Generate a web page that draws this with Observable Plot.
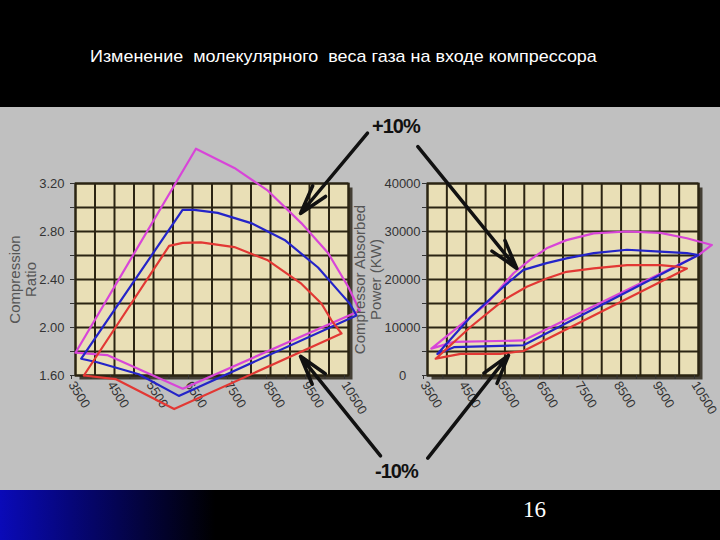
<!DOCTYPE html>
<html><head><meta charset="utf-8">
<script src="https://cdn.jsdelivr.net/npm/d3@7"></script>
<script src="https://cdn.jsdelivr.net/npm/@observablehq/plot@0.6"></script>
<style>
body{margin:0;background:#000;width:720px;height:540px;overflow:hidden;position:relative;font-family:"Liberation Sans",Arial,sans-serif}
#title{position:absolute;left:90px;top:47px;color:#fff;font-size:17px;white-space:pre;transform:scaleX(1.055);transform-origin:left top}
#panel{position:absolute;left:0;top:107px;width:720px;height:383px;background:#c0c0c0}
#footer{position:absolute;left:0;top:490px;width:720px;height:50px;background:linear-gradient(90deg,#0a0ab8 0,#06067a 70px,#000 215px)}
#page{position:absolute;left:523px;top:497px;color:#fff;font-family:"Liberation Serif","Times New Roman",serif;font-size:23px}
.chart{position:absolute;left:0;top:107px}
.note{position:absolute;font-weight:bold;font-size:20px;letter-spacing:-1px;color:#111}
</style></head>
<body>
<div id="title">Изменение  молекулярного  веса газа на входе компрессора</div>
<div id="panel"></div>
<div id="footer"></div>
<div id="page">16</div>
<div id="left" class="chart"></div>
<div id="right" class="chart"></div>
<div class="note" style="left:372px;top:115px">+10%</div>
<div class="note" style="left:375px;top:460px">-10%</div>
<script>
// ---- data ----
const seriesNames = ["+10%", "base", "-10%"];
const seriesColors = ["#d845d8", "#2424c8", "#e23834"];
const xTickLabels = [3500, 4500, 5500, 6500, 7500, 8500, 9500, 10500];
const ratioTickLabels = ["1.60", "2.00", "2.40", "2.80", "3.20"];
const powerTickLabels = [0, 10000, 20000, 30000, 40000];

// Compression ratio vs speed (closed envelopes)
const ratioPlusX = [3500, 6588, 7573, 8433, 9290, 9977, 10492, 10790, 6250, 4313, 3500];
const ratioPlusY = [1.79, 3.49, 3.33, 3.14, 2.87, 2.62, 2.34, 2.14, 1.49, 1.77, 1.79];
const ratioBaseX = [3647, 6245, 6544, 7146, 8003, 8861, 9719, 10311, 10532, 10705, 6149, 5123, 4056, 3647];
const ratioBaseY = [1.74, 2.98, 2.98, 2.955, 2.87, 2.73, 2.50, 2.28, 2.20, 2.10, 1.43, 1.61, 1.71, 1.74];
const ratioMinusX = [3714, 5901, 6250, 6716, 7573, 8433, 9290, 9805, 10063, 10320, 6030, 4526, 3714];
const ratioMinusY = [1.60, 2.68, 2.705, 2.71, 2.67, 2.56, 2.365, 2.20, 2.06, 1.95, 1.32, 1.57, 1.60];

// Absorbed power vs speed (closed envelopes)
const powerPlusX = [3600, 4182, 5038, 5721, 6149, 6577, 7090, 7794, 8654, 9513, 10200, 10845, 10500, 5977, 4182, 3600];
const powerPlusY = [5600, 9400, 15000, 21300, 24100, 26500, 28200, 29600, 30000, 29700, 28600, 27200, 25100, 7300, 7000, 5600];
const powerBaseX = [3756, 4610, 5464, 5977, 6577, 7090, 7794, 8654, 9513, 10200, 10500, 5977, 4182, 3756];
const powerBaseY = [4500, 12200, 18500, 22000, 23400, 24400, 25500, 26200, 25800, 25500, 25100, 6300, 5900, 4500];
const powerMinusX = [3713, 4610, 5464, 6064, 6577, 7090, 7794, 8654, 9513, 9943, 10200, 5977, 5380, 4354, 3713];
const powerMinusY = [3500, 10100, 15700, 18500, 20200, 21600, 22300, 23000, 23000, 22700, 22300, 5100, 4500, 4500, 3500];

// annotation arrows (data coordinates of each chart)
const ratioArrows = [
  {x1: 10987, y1: 3.62, x2: 9269, y2: 2.95},
  {x1: 11321, y1: 0.93, x2: 9269, y2: 1.76}
];
const powerArrows = [
  {x1: 3251, y1: 47700, x2: 5808, y2: 22300},
  {x1: 3508, y1: -17200, x2: 5592, y2: 4200}
];

// ---- build ----
const rows = (xs, ys, s) => xs.map((x, i) => ({x, y: ys[i], series: s}));
const ratioRows = [
  ...rows(ratioPlusX, ratioPlusY, "+10%"),
  ...rows(ratioBaseX, ratioBaseY, "base"),
  ...rows(ratioMinusX, ratioMinusY, "-10%")
];
const powerRows = [
  ...rows(powerPlusX, powerPlusY, "+10%"),
  ...rows(powerBaseX, powerBaseY, "base"),
  ...rows(powerMinusX, powerMinusY, "-10%")
];

const gridXVals = d3.range(3500, 10501, 500);
const gridRatio = d3.range(8, 17).map(d => d / 5);
const gridPower = d3.range(0, 40001, 5000);
const gridColor = "#2b2412";
const style = {fontSize: "13px", fontFamily: "'Liberation Sans', Arial, sans-serif", color: "#333", background: "transparent", overflow: "visible"};

function chart({marginLeft, marginRight, yDomain, gridY, yFormat, data, arrows, title, titleDx, yTextAnchor, yPad}) {
  return Plot.plot({
    width: 720, height: 383,
    marginLeft, marginRight, marginTop: 76, marginBottom: 115,
    style,
    x: {domain: [3500, 10500], axis: null},
    y: {domain: yDomain, axis: null},
    color: {domain: seriesNames, range: seriesColors},
    marks: [
      Plot.frame({fill: "#2e281c", fillOpacity: 0.85, dx: 4, dy: 4}),
      Plot.frame({fill: "#e9dfb6"}),
      Plot.gridX(gridXVals, {stroke: gridColor, strokeOpacity: 1, strokeWidth: 2}),
      Plot.gridY(gridY, {stroke: gridColor, strokeOpacity: 1, strokeWidth: 2}),
      Plot.frame({stroke: gridColor, strokeWidth: 2}),
      Plot.axisX({ticks: gridXVals, tickSize: 4, tickPadding: 3, tickRotate: 58, dx: -4,
        tickFormat: d => xTickLabels.includes(d) ? String(d) : "", label: null, fontSize: 13}),
      Plot.axisY({ticks: gridY, tickSize: 5, tickPadding: yPad, textAnchor: yTextAnchor,
        tickFormat: yFormat, label: null, fontSize: 13}),
      Plot.text([title], {frameAnchor: "left", textAnchor: "middle", rotate: -90, dx: titleDx, fontSize: 15,
        fill: "#555", lineHeight: 1.1}),
      Plot.line(data, {x: "x", y: "y", z: "series", stroke: "series", strokeWidth: 2.2, curve: "linear"}),
      Plot.arrow(arrows, {x1: "x1", y1: "y1", x2: "x2", y2: "y2", stroke: "#111",
        strokeWidth: 3.5, headLength: 13, headAngle: 32})
    ]
  });
}

document.getElementById("left").append(chart({
  marginLeft: 75, marginRight: 372, yDomain: [1.6, 3.2], gridY: gridRatio,
  yFormat: d => ratioTickLabels.includes(d.toFixed(2)) ? d.toFixed(2) : "",
  data: ratioRows, arrows: ratioArrows, title: "Compression\nRatio", titleDx: -53,
  yTextAnchor: "end", yPad: 6
}));
document.getElementById("right").append(chart({
  marginLeft: 427, marginRight: 22, yDomain: [0, 40000], gridY: gridPower,
  yFormat: d => powerTickLabels.includes(d) ? String(d) : "",
  data: powerRows, arrows: powerArrows, title: "Compressor Absorbed\nPower (KW)", titleDx: -60,
  yTextAnchor: "middle", yPad: 20
}));
</script>
</body></html>
